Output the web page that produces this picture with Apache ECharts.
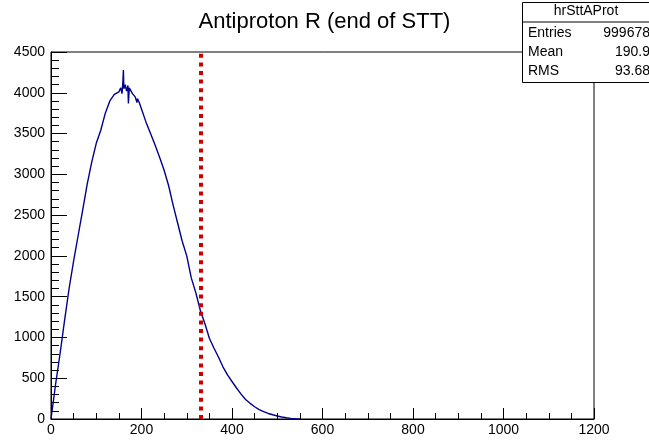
<!DOCTYPE html>
<html>
<head>
<meta charset="utf-8">
<script src="https://cdn.jsdelivr.net/npm/echarts@6/dist/echarts.min.js"></script>
<style>
  html, body { margin: 0; padding: 0; background: #fff; }
  #chart { width: 649px; height: 440px; }
</style>
</head>
<body>
<div id="chart"></div>
<script>
// R of antiproton at end of STT (bin width ~1)
var rValues = [0, 10, 20, 30, 40, 50, 60, 70, 80, 90, 100, 110, 120, 130, 140, 150,
  154, 157, 159, 160, 161, 164, 167, 170, 171, 173, 176, 180, 186, 190, 191, 195,
  200, 210, 220, 230, 240, 250, 260, 270, 280, 290, 300, 310, 320, 330, 340, 350,
  360, 370, 380, 390, 400, 410, 420, 430, 440, 450, 460, 470, 480, 490, 500, 510,
  520, 530, 540, 550]
var counts = [0, 420, 800, 1210, 1600, 1940, 2250, 2560, 2880, 3150, 3380, 3540, 3750, 3900, 3980, 4010,
  4060, 3990, 4150, 4280, 4050, 4100, 4020, 4090, 3870, 4060, 4040, 3990, 3950, 3880, 3930, 3880,
  3800, 3640, 3500, 3360, 3210, 3050, 2860, 2620, 2400, 2180, 2000, 1730, 1550, 1330, 1170, 990,
  870, 760, 640, 540, 460, 380, 305, 240, 192, 150, 115, 90, 68, 52, 37, 25,
  15, 8, 3, 0]
var cutR = 331

var histName = 'hrSttAProt'
var statNames = ['Entries', 'Mean', 'RMS']
var statValues = ['999678', '190.9', '93.68']

var font = 'Liberation Sans, Arial, Helvetica, sans-serif'

var data = []
for (var i = 0; i < rValues.length; i++) {
  data.push([rValues[i], counts[i]])
}

// stats box, top right, runs off the canvas like in ROOT
var statBox = [
  { type: 'rect', left: 522, top: 2, z: 100,
    shape: { width: 140, height: 80 },
    style: { fill: '#fff', stroke: '#000', lineWidth: 1 } },
  { type: 'line', z: 101,
    shape: { x1: 522, y1: 22, x2: 660, y2: 22 },
    style: { stroke: '#000', lineWidth: 1 } },
  { type: 'text', x: 586, y: 4, z: 102,
    style: { text: histName, font: '14px ' + font, fill: '#000', textAlign: 'center' } }
]
for (var k = 0; k < statNames.length; k++) {
  statBox.push({ type: 'text', x: 528, y: 26 + k * 19, z: 102,
    style: { text: statNames[k], font: '14px ' + font, fill: '#000', textAlign: 'left' } })
  statBox.push({ type: 'text', x: 650, y: 26 + k * 19, z: 102,
    style: { text: statValues[k], font: '14px ' + font, fill: '#000', textAlign: 'right' } })
}

var plain = function (v) { return String(v) }

var myChart = echarts.init(document.getElementById('chart'))
var option = {
  animation: false,
  backgroundColor: '#fff',
  title: {
    text: 'Antiproton R (end of STT)',
    left: 'center',
    top: 6,
    textStyle: { fontFamily: font, fontSize: 22, fontWeight: 'normal', color: '#000' }
  },
  grid: {
    left: 51, right: 55, top: 52, bottom: 21,
    show: true, borderColor: '#000', borderWidth: 1
  },
  xAxis: {
    type: 'value', min: 0, max: 1200, interval: 200,
    axisLine: { onZero: false, lineStyle: { color: '#000', width: 1 } },
    axisTick: { inside: true, length: 11, lineStyle: { color: '#000' } },
    minorTick: { show: true, splitNumber: 4, length: 6, lineStyle: { color: '#000' } },
    splitLine: { show: false },
    axisLabel: { color: '#000', fontFamily: font, fontSize: 14, margin: 4, formatter: plain }
  },
  yAxis: {
    type: 'value', min: 0, max: 4500, interval: 500,
    axisLine: { show: true, lineStyle: { color: '#000', width: 1 } },
    axisTick: { show: true, inside: true, length: 16, lineStyle: { color: '#000' } },
    minorTick: { show: true, splitNumber: 5, length: 8, lineStyle: { color: '#000' } },
    splitLine: { show: false },
    axisLabel: { color: '#000', fontFamily: font, fontSize: 14, margin: 6, formatter: plain }
  },
  series: [{
    type: 'line',
    data: data,
    showSymbol: false,
    clip: true,
    lineStyle: { color: '#00008b', width: 1.4 },
    markLine: {
      silent: true,
      symbol: 'none',
      label: { show: false },
      lineStyle: { color: '#cc0000', width: 4, type: [4, 4.6] },
      data: [{ xAxis: cutR }]
    }
  }],
  graphic: statBox
}
myChart.setOption(option, true)
</script>
</body>
</html>
